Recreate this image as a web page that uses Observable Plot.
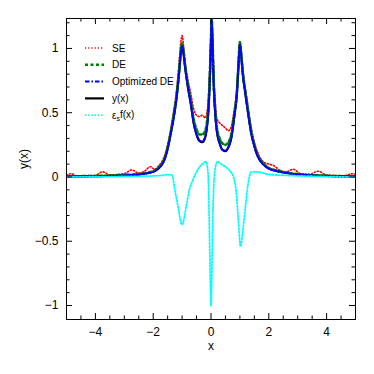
<!DOCTYPE html>
<html><head><meta charset="utf-8">
<script src="https://cdn.jsdelivr.net/npm/d3@7"></script>
<script src="https://cdn.jsdelivr.net/npm/@observablehq/plot@0.6"></script>
<style>html,body{margin:0;padding:0;background:#fff;}</style>
</head><body><div id="chart"></div>
<script>
// ---- data ----
const xGrid = [-5,-4,-3.5,-3,-2.5,-2.2,-2,-1.8,-1.7,-1.6,-1.5,-1.4,-1.3,-1.2,-1.1,-1.05,-1,-0.95,-0.9,-0.8,-0.7,-0.6,-0.5,-0.4,-0.3,-0.2,-0.15,-0.1,-0.05,0,0.02,0.05,0.1,0.15,0.2,0.3,0.4,0.5,0.6,0.7,0.8,0.9,0.95,1,1.05,1.1,1.2,1.3,1.4,1.5,1.6,1.8,2,2.2,2.5,3,3.5,4,5];
const yExact = [0.003,0.006,0.008,0.012,0.02,0.03,0.04,0.07,0.095,0.14,0.22,0.33,0.45,0.6,0.82,0.95,1.02,0.96,0.86,0.7,0.57,0.42,0.33,0.28,0.27,0.31,0.37,0.48,0.7,1.05,1.22,1.05,0.68,0.48,0.36,0.26,0.21,0.2,0.23,0.3,0.46,0.66,0.86,1.03,0.93,0.8,0.63,0.47,0.33,0.24,0.17,0.1,0.065,0.05,0.035,0.02,0.012,0.008,0.004];
const yDE = [0.004,0.008,0.01,0.015,0.022,0.033,0.045,0.075,0.1,0.15,0.23,0.34,0.47,0.62,0.84,0.97,1.04,0.98,0.88,0.72,0.6,0.45,0.37,0.33,0.33,0.36,0.41,0.52,0.74,1.08,1.24,1.08,0.71,0.51,0.39,0.3,0.26,0.25,0.27,0.33,0.48,0.68,0.88,1.05,0.95,0.82,0.65,0.49,0.35,0.25,0.18,0.11,0.07,0.055,0.04,0.022,0.014,0.009,0.005];
const yOptDE = [0.003,0.006,0.008,0.012,0.02,0.03,0.04,0.07,0.095,0.14,0.22,0.33,0.45,0.6,0.82,0.95,1.02,0.96,0.86,0.7,0.57,0.42,0.33,0.285,0.275,0.31,0.37,0.48,0.7,1.05,1.22,1.05,0.68,0.48,0.36,0.26,0.21,0.205,0.23,0.3,0.46,0.66,0.86,1.03,0.93,0.8,0.63,0.47,0.33,0.24,0.17,0.1,0.065,0.05,0.035,0.02,0.012,0.008,0.004];
const xSE = [-5,-4.85,-4.6,-4.3,-4,-3.75,-3.5,-3.2,-2.95,-2.75,-2.5,-2.3,-2.1,-1.95,-1.8,-1.7,-1.6,-1.5,-1.4,-1.3,-1.2,-1.1,-1.05,-1,-0.95,-0.9,-0.8,-0.7,-0.6,-0.5,-0.4,-0.3,-0.2,-0.15,-0.1,-0.05,0,0.02,0.05,0.1,0.15,0.2,0.3,0.4,0.5,0.6,0.7,0.8,0.9,0.95,1,1.05,1.1,1.2,1.3,1.4,1.5,1.6,1.8,2,2.15,2.4,2.6,2.85,3.1,3.4,3.7,4,4.3,4.6,4.9,5];
const ySE = [0.012,0.025,0.005,0.01,0.012,0.04,0.015,0.02,0.03,0.055,0.03,0.045,0.08,0.06,0.09,0.12,0.17,0.25,0.36,0.5,0.66,0.9,1.04,1.1,1.02,0.9,0.76,0.65,0.53,0.48,0.47,0.48,0.46,0.49,0.58,0.8,1.15,1.35,1.15,0.78,0.58,0.46,0.42,0.4,0.38,0.36,0.39,0.52,0.7,0.9,1.05,0.96,0.84,0.67,0.52,0.37,0.27,0.2,0.12,0.1,0.09,0.05,0.04,0.06,0.025,0.02,0.045,0.015,0.012,0.01,0.025,0.02];
const xErr = [-5,-4,-3,-2,-1.7,-1.5,-1.35,-1.25,-1.15,-1,-0.85,-0.75,-0.64,-0.45,-0.3,-0.17,-0.1,-0.07,-0.04,0,0.04,0.07,0.12,0.22,0.35,0.46,0.6,0.7,0.78,0.87,0.95,1.02,1.1,1.16,1.28,1.39,1.6,2,2.5,3.1,4,5];
const yErr = [0,0.002,0.004,0.008,0.012,0.018,0.015,-0.1,-0.22,-0.37,-0.22,-0.1,-0.03,0.06,0.1,0.12,0.02,-0.25,-0.6,-1.0,-0.6,-0.25,0.02,0.12,0.1,0.085,0.06,0.035,0,-0.11,-0.35,-0.54,-0.42,-0.3,-0.06,0.04,0.04,0.02,0.013,0.008,0.003,0];
const seriesNames = ["SE", "DE", "Optimized DE", "y(x)", "ε_s f(x)"];
const xMajor = [-4, -2, 0, 2, 4];
const xMinor = [-4.5, -3.5, -3, -2.5, -1.5, -1, -0.5, 0.5, 1, 1.5, 2.5, 3, 3.5, 4.5];
const yMajor = [-1, -0.5, 0, 0.5, 1];
const yMinor = [-0.9, -0.8, -0.7, -0.6, -0.4, -0.3, -0.2, -0.1, 0.1, 0.2, 0.3, 0.4, 0.6, 0.7, 0.8, 0.9, 1.1, 1.2];
const xLabel = "x", yLabel = "y(x)";

// ---- build tables ----
const zip = (xs, ys) => xs.map((x, i) => ({x, y: ys[i]}));
const dExact = zip(xGrid, yExact), dDE = zip(xGrid, yDE), dOpt = zip(xGrid, yOptDE);
const dSE = zip(xSE, ySE), dErr = zip(xErr, yErr);

const W = 374, H = 374, mL = 66, mR = 19, mT = 18, mB = 55;
const fw = W - mL - mR, fh = H - mT - mB;
const fmt = d3.format("~g");
const font = "'Liberation Sans', Arial, Helvetica, sans-serif";

const styles = [
  {stroke: "#ff0000", strokeWidth: 1.6, strokeDasharray: "1.2,2"},
  {stroke: "#008000", strokeWidth: 2.6, strokeDasharray: "3,2.5"},
  {stroke: "#0000ff", strokeWidth: 2, strokeDasharray: "4.5,2,1.5,2"},
  {stroke: "#000000", strokeWidth: 2.2},
  {stroke: "#00ffff", strokeWidth: 1.8, strokeDasharray: "1.4,1.8"}
];
const lineOpts = (s) => ({x: "x", y: "y", curve: "monotone-x", clip: true, ...s});

const svg = Plot.plot({
  width: W, height: H,
  marginLeft: mL, marginRight: mR, marginTop: mT, marginBottom: mB,
  style: {fontFamily: font, fontSize: "12px", background: "#fff", color: "#000"},
  x: {domain: [-5, 5]},
  y: {domain: [-1.109, 1.233]},
  marks: [
    Plot.line(dSE, lineOpts(styles[0])),
    Plot.line(dExact, lineOpts(styles[3])),
    Plot.line(dDE, lineOpts(styles[1])),
    Plot.line(dOpt, lineOpts(styles[2])),
    Plot.line(dErr, lineOpts(styles[4])),
    // inward ticks on all four sides
    Plot.ruleX(xMajor, {x: d => d, insetTop: fh - 6, stroke: "#000"}),
    Plot.ruleX(xMajor, {x: d => d, insetBottom: fh - 6, stroke: "#000"}),
    Plot.ruleX(xMinor, {x: d => d, insetTop: fh - 3.5, stroke: "#000"}),
    Plot.ruleX(xMinor, {x: d => d, insetBottom: fh - 3.5, stroke: "#000"}),
    Plot.ruleY(yMajor, {y: d => d, insetRight: fw - 6, stroke: "#000"}),
    Plot.ruleY(yMajor, {y: d => d, insetLeft: fw - 6, stroke: "#000"}),
    Plot.ruleY(yMinor, {y: d => d, insetRight: fw - 3.5, stroke: "#000"}),
    Plot.ruleY(yMinor, {y: d => d, insetLeft: fw - 3.5, stroke: "#000"}),
    Plot.frame({stroke: "#000", strokeWidth: 1}),
    Plot.axisX({ticks: xMajor, tickSize: 0, tickPadding: 8, tickFormat: fmt, label: null, fontSize: 12}),
    Plot.axisY({ticks: yMajor, tickSize: 0, tickPadding: 8, tickFormat: fmt, label: null, fontSize: 12}),
    Plot.text([xLabel], {text: d => d, frameAnchor: "bottom", dy: 30, fontSize: 12}),
    Plot.text([yLabel], {text: d => d, frameAnchor: "left", dx: -42, rotate: -90, fontSize: 12})
  ]
});
document.getElementById("chart").appendChild(svg);

// ---- legend (inside plot, top-left) ----
const lg = d3.select(svg).append("g").attr("font-family", font).attr("font-size", 10)
  .attr("text-anchor", "start");
seriesNames.forEach((name, i) => {
  const y = 48 + i * 16.8;
  const s = styles[i];
  lg.append("line").attr("x1", 85).attr("x2", 104).attr("y1", y).attr("y2", y)
    .attr("stroke", s.stroke).attr("stroke-width", s.strokeWidth)
    .attr("stroke-dasharray", s.strokeDasharray || null);
  const t = lg.append("text").attr("x", 112).attr("y", y).attr("dy", "0.35em")
    .attr("fill", "#000").attr("text-anchor", "start");
  if (name.includes("_")) {
    const [a, rest] = name.split("_");
    const [sub, ...tail] = rest.split(" ");
    t.append("tspan").text(a);
    t.append("tspan").attr("font-size", 7).attr("dy", "0.35em").text(sub);
    t.append("tspan").attr("dy", "-0.35em").text(tail.join(" "));
  } else {
    t.text(name);
  }
});
</script>
</body></html>
